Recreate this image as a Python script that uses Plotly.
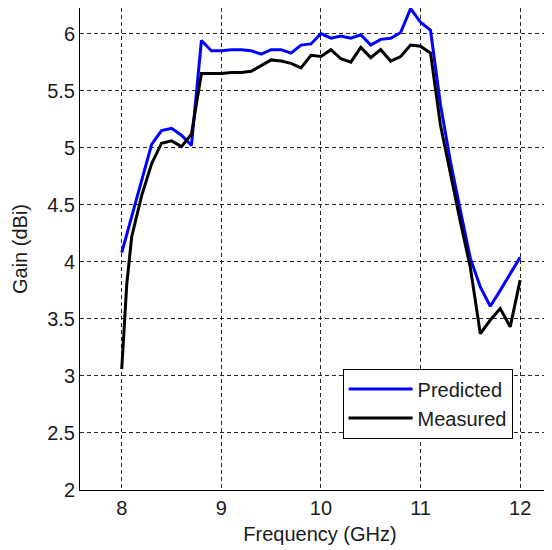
import plotly.graph_objects as go

# Predicted gain (blue)
pred_freq = [8.0, 8.1, 8.2, 8.3, 8.4, 8.5, 8.6, 8.7, 8.8, 8.9,
             9.0, 9.1, 9.2, 9.3, 9.4, 9.5, 9.6, 9.7, 9.8, 9.9,
             10.0, 10.1, 10.2, 10.3, 10.4, 10.5, 10.6, 10.7, 10.8, 10.9,
             11.0, 11.1, 11.2, 11.3, 11.4, 11.5, 11.6, 11.7, 11.8, 11.9, 12.0]
pred_gain = [4.08, 4.40, 4.72, 5.03, 5.15, 5.17, 5.11, 5.02, 5.94, 5.85,
             5.85, 5.86, 5.86, 5.85, 5.82, 5.86, 5.86, 5.83, 5.90, 5.91,
             6.00, 5.96, 5.98, 5.96, 5.99, 5.90, 5.95, 5.96, 6.01, 6.22,
             6.10, 6.03, 5.38, 4.88, 4.45, 4.03, 3.78, 3.61, 3.75, 3.90, 4.04]

# Measured gain (black)
meas_freq = [8.0, 8.05, 8.1, 8.2, 8.3, 8.4, 8.5, 8.6, 8.7, 8.8, 8.9,
             9.0, 9.1, 9.2, 9.3, 9.4, 9.5, 9.6, 9.7, 9.8, 9.9,
             10.0, 10.1, 10.2, 10.3, 10.4, 10.5, 10.6, 10.7, 10.8, 10.9,
             11.0, 11.1, 11.2, 11.3, 11.4, 11.5, 11.6, 11.7, 11.8, 11.9, 12.0]
meas_gain = [3.06, 3.80, 4.22, 4.58, 4.86, 5.04, 5.06, 5.01, 5.12, 5.65, 5.65,
             5.65, 5.66, 5.66, 5.67, 5.72, 5.77, 5.76, 5.74, 5.70, 5.81,
             5.80, 5.86, 5.78, 5.75, 5.88, 5.79, 5.86, 5.76, 5.80, 5.90,
             5.89, 5.83, 5.20, 4.76, 4.35, 3.95, 3.37, 3.49, 3.59, 3.43, 3.84]

x_ticks = [8, 9, 10, 11, 12]
y_ticks = [2, 2.5, 3, 3.5, 4, 4.5, 5, 5.5, 6]
y_tick_text = ["2", "2.5", "3", "3.5", "4", "4.5", "5", "5.5", "6"]

FONT = "Liberation Sans, Arial, sans-serif"
TXT = "#1a1a1a"
FS = 20

fig = go.Figure()
fig.add_trace(go.Scatter(x=pred_freq, y=pred_gain, mode="lines", name="Predicted",
                         line=dict(color="#0000ff", width=3)))
fig.add_trace(go.Scatter(x=meas_freq, y=meas_gain, mode="lines", name="Measured",
                         line=dict(color="#000000", width=3)))

fig.update_layout(
    width=552, height=550,
    margin=dict(l=72, r=0, t=0, b=68),
    paper_bgcolor="white", plot_bgcolor="white",
    font=dict(family=FONT, size=FS, color=TXT),
    showlegend=True,
    legend=dict(x=0.547, y=0.252, xanchor="left", yanchor="top",
                bgcolor="white", bordercolor="#000000", borderwidth=1,
                font=dict(family=FONT, size=FS, color=TXT),
                itemwidth=64, tracegroupgap=0),
    xaxis=dict(range=[7.581, 12.40], tickvals=x_ticks, ticktext=[str(v) for v in x_ticks],
               showgrid=True, gridcolor="#262626", griddash="4px,3px", gridwidth=1,
               showline=True, linecolor="#000000", linewidth=1, mirror=True,
               ticks="", zeroline=False,
               title=dict(text="Frequency (GHz)", font=dict(family=FONT, size=FS, color=TXT), standoff=8)),
    yaxis=dict(range=[2, 6.225], tickvals=y_ticks, ticktext=y_tick_text,
               showgrid=True, gridcolor="#262626", griddash="4px,3px", gridwidth=1,
               showline=True, linecolor="#000000", linewidth=1, mirror=False,
               ticks="", zeroline=False,
               title=dict(text="Gain (dBi)", font=dict(family=FONT, size=FS, color=TXT), standoff=14)),
)

fig.write_html("out.html")
